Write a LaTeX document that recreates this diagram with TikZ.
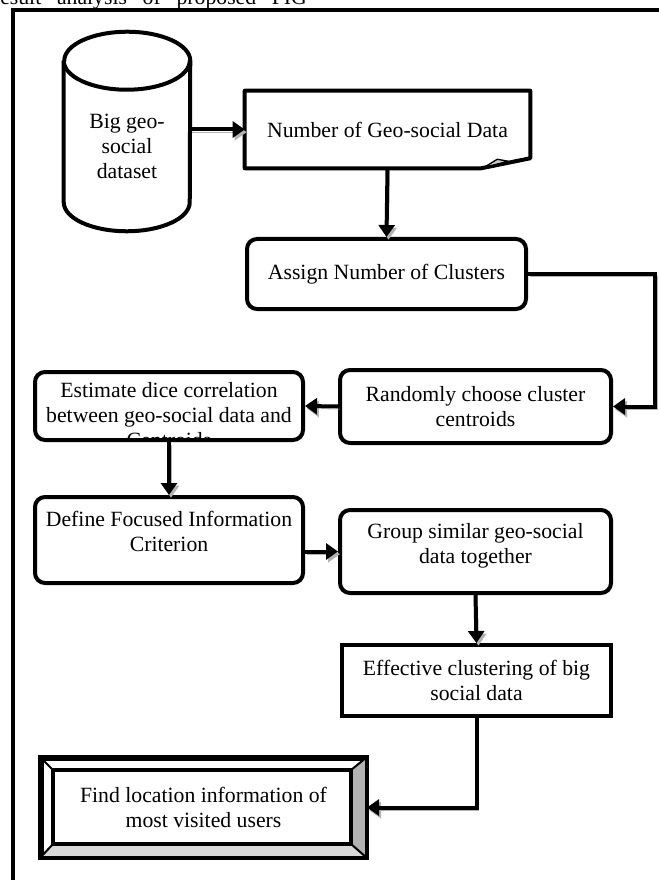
\documentclass[tikz,border=0pt]{standalone}
\usepackage{fontspec}
\setmainfont{Liberation Serif}
\usetikzlibrary{calc, arrows.meta, positioning}

\begin{document}
\begin{tikzpicture}[x=0.75pt, y=-0.75pt, >={Triangle[length=9pt, width=12pt]}]
		\tikzstyle{txt} = [font=\fontsize{16.3}{18.75}\selectfont, align=center]
		\tikzstyle{bare} = [txt, draw=none]
		\tikzstyle{round} = [txt, draw=black, line width=3pt, rounded corners=7.5pt, fill=white]
		\tikzstyle{plain} = [txt, draw=black, line width=3pt, fill=white]
		\tikzstyle{outline} = [draw=black, line width=3pt, line join=round]
		\tikzstyle{link} = [->, line width=3pt, preaction={draw=gray!60, transform canvas={shift={(1.5pt,-2pt)}}}]
		
		\useasboundingbox (0,0) rectangle (659,880);
		\clip (0,0) rectangle (659,880);
		
		\node[bare, anchor=base west, inner sep=0pt] at (0,5) (title) {\makebox[230pt][s]{esult analysis of proposed FIG}};
		\draw[line width=3pt] (13,890) -- (13,10) -- (670,10);
		
		\node[bare, minimum width=94.5pt, minimum height=127.5pt] 	at (127, 146) 		(data) 		{Big geo-\\social\\dataset};
		\node[bare, minimum width=213.75pt, minimum height=57.75pt] 	at (387.5, 129.5) 	(count) 	{Number of Geo-social Data};
		\node[round, minimum width=209.25pt, minimum height=52.5pt] 	at (386.5, 274) 	(assign) 	{Assign Number of Clusters};
		\node[round, minimum width=203.25pt, minimum height=54.75pt] 	at (475.5, 406.5) 	(random) 	{Randomly choose cluster\\centroids};
		\node[round, minimum width=201pt, minimum height=51pt,
			path picture={\node[txt] at ([yshift=-6.75pt]path picture bounding box.center) (esttext) {Estimate dice correlation\\between geo-social data and\\Centroids};}]
																	at (169, 406) 		(estimate) 	{};
		\node[round, minimum width=201pt, minimum height=64.5pt] 		at (169, 540) 		(define) 	{Define Focused Information\\Criterion\\[-6pt]\mbox{}};
		\node[round, minimum width=203.25pt, minimum height=62.25pt] 	at (475.5, 551.5) 	(group) 	{Group similar geo-social\\data together\\[-6pt]\mbox{}};
		\node[plain, minimum width=201.75pt, minimum height=53.25pt] 	at (476.5, 680.5) 	(effective) {Effective clustering of big\\social data};
		\node[plain, minimum width=242.25pt, minimum height=72.75pt] 	at (203.5, 807.5) 	(find) 		{Find location information of\\most visited users};
		
		% cylinder round the data node
		\draw[outline] (data.north west) -- ($(data.south west)+(0,-29)$)
			arc[start angle=180, end angle=360, x radius=47.25pt, y radius=21.75pt]
			-- (data.north east)
			arc[start angle=0, end angle=180, x radius=47.25pt, y radius=21.75pt];
		\draw[outline] (data.north west) arc[start angle=180, end angle=360, x radius=47.25pt, y radius=21.75pt];
		
		% document with folded corner
		\draw[outline] (count.north west) -- (count.north east) -- ($(count.south east)+(0,-10)$)
			-- ($(count.south east)+(-49,0)$) -- (count.south west) -- cycle;
		\filldraw[fill=gray!40, line width=1pt, line join=round] ($(count.south east)+(-46,-1)$) -- ($(count.south east)+(-33,-9)$) -- ($(count.south east)+(-22,-7)$) -- cycle;
		
		% bevel of the last box
		\coordinate (fnw) at ($(find.north west)+(13,13)$);
		\coordinate (fne) at ($(find.north east)+(-16,13)$);
		\coordinate (fsw) at ($(find.south west)+(13,-14)$);
		\coordinate (fse) at ($(find.south east)+(-16,-14)$);
		\fill[gray!60] (find.north east) -- (fne) -- (fse) -- (find.south east) -- cycle;
		\fill[gray!30] (find.south west) -- (fsw) -- (fse) -- (find.south east) -- cycle;
		\draw[line width=3pt] (fnw) rectangle (fse);
		\draw[line width=1.5pt] (find.north west) -- (fnw) (find.north east) -- (fne) (find.south west) -- (fsw) (find.south east) -- (fse);
		\draw[line width=3pt] (find.north west) rectangle (find.south east);
		
		\coordinate (turn) at (655, 274);
		
		\draw[link] (data.east |- count.west) -- (count.west);
		\draw[link] (count.south) -- (assign.north);
		\draw[link] (assign.east) -- (turn) |- (random.east);
		\draw[link] (random.west) -- (estimate.east);
		\draw[link] (estimate.south) -- (define.north);
		\draw[link] (define.east |- group.west) -- (group.west);
		\draw[link] (group.south) -- (effective.north);
		\draw[link] (effective.south) |- (find.east);
\end{tikzpicture}
\end{document}
